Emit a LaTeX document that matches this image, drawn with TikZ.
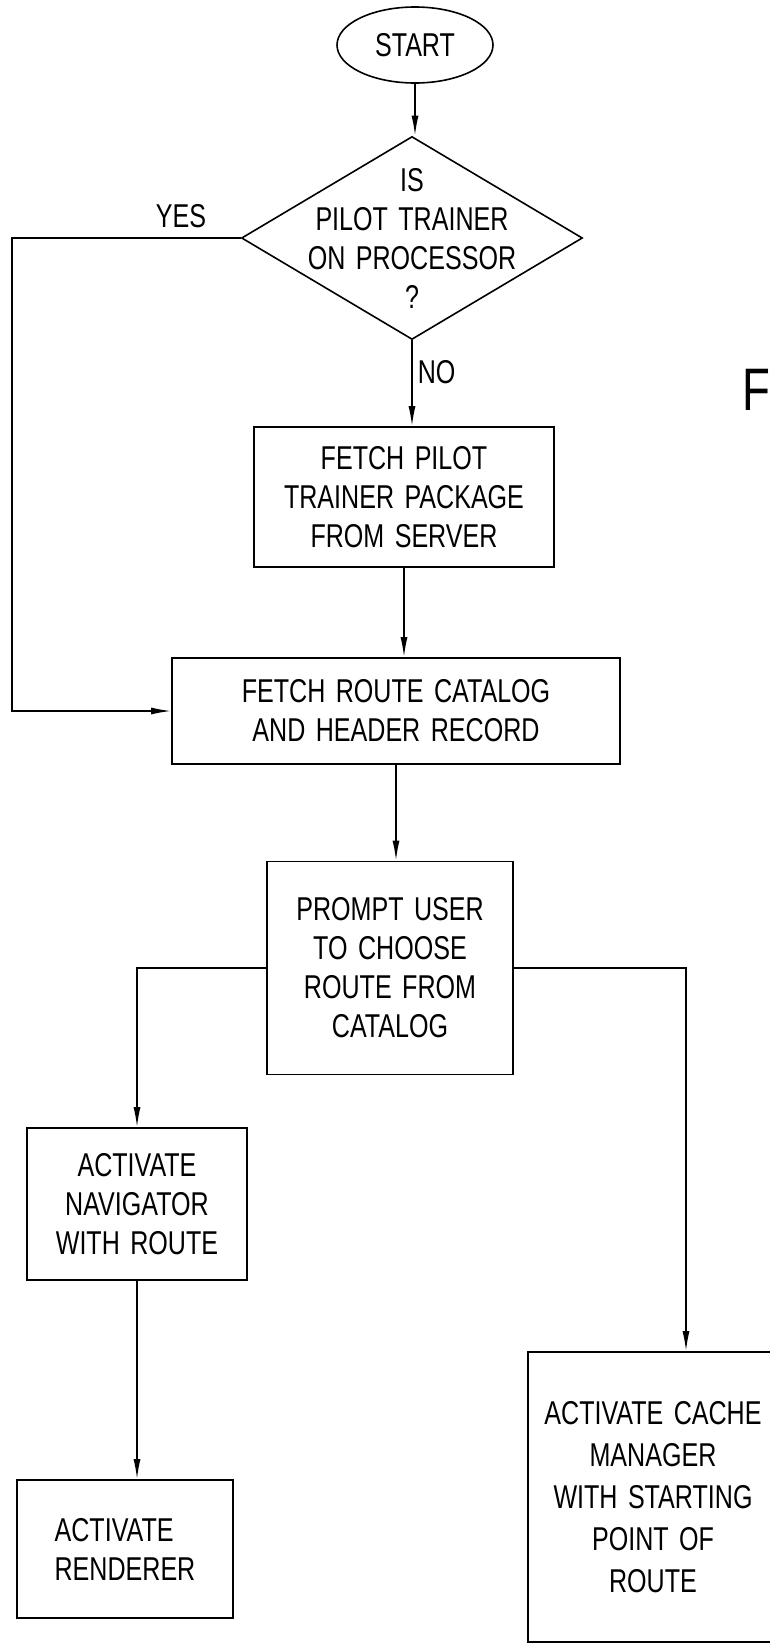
\documentclass[tikz,border=0pt]{standalone}
\usepackage{fontspec}
\setmainfont{Liberation Sans}[FakeStretch=0.76,WordSpace=1.5]
\usetikzlibrary{shapes.geometric,arrows.meta}

\begin{document}
\begin{tikzpicture}[x=1pt,y=-1pt,line width=1.6pt,
	txt/.style={font=\fontsize{33}{39}\selectfont, align=center, inner sep=0pt},
	stepbox/.style={txt, draw, rectangle},
	flow/.style={-{Latex[length=20pt,width=7pt]}}]
\useasboundingbox (0,0) rectangle (770,1644);

	\node[txt, draw, ellipse, minimum width=156pt, minimum height=76pt] (start) at (415,45) {START};
	\node[draw, diamond, inner sep=0pt, minimum width=341pt, minimum height=203pt] (check) at (412,238) {};
	\node[txt] (checktext) at (check.center) {IS\\PILOT TRAINER\\ON PROCESSOR\\?};
	\node[stepbox, minimum width=300pt, minimum height=140pt] (fetchpkg) at (404,497) {FETCH PILOT\\TRAINER PACKAGE\\FROM SERVER};
	\node[stepbox, minimum width=448pt, minimum height=106pt] (route) at (396,711) {FETCH ROUTE CATALOG\\AND HEADER RECORD};
	\node[stepbox, minimum width=246pt, minimum height=213pt] (prompt) at (390,968) {PROMPT USER\\TO CHOOSE\\ROUTE FROM\\CATALOG};
	\node[stepbox, minimum width=220pt, minimum height=152pt] (nav) at (137,1204) {ACTIVATE\\NAVIGATOR\\WITH ROUTE};
	\node[stepbox, align=left, minimum width=216pt, minimum height=138pt] (render) at (125,1549) {ACTIVATE\\RENDERER};
	\node[stepbox, font=\fontsize{33}{42}\selectfont, minimum width=250pt, minimum height=290pt] (cache) at (653,1497) {ACTIVATE CACHE\\MANAGER\\WITH STARTING\\POINT OF\\ROUTE};

	\node[txt, anchor=base] (yes) at (181,227) {YES};
	\node[txt, anchor=base west] (no) at (417,383) {NO};
	\node[txt, font=\fontsize{60}{60}\selectfont, anchor=base west] (figlabel) at (742,410) {F};

	% connectors
	\foreach \a/\b in {start/check,check/fetchpkg,fetchpkg/route,route/prompt,nav/render}
		\draw[flow] (\a.south) -- (\a.south |- \b.north);
	\coordinate (leftrail) at (12,0);
	\draw[flow] (check.west) -- (check.west -| leftrail) |- (route.west);
	\draw[flow] (prompt.west) -| (nav.north);
	\draw[flow] (prompt.east) -| ([xshift=33pt]cache.north);
\end{tikzpicture}
\end{document}
